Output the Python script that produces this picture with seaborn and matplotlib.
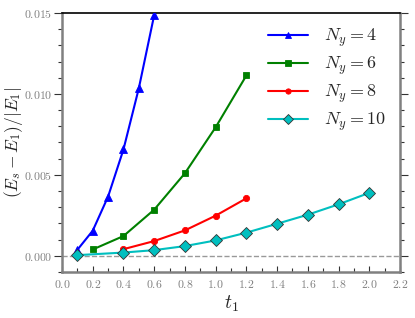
import matplotlib
matplotlib.use("Agg")
import matplotlib.pyplot as plt
import seaborn as sns
import numpy as np
import pandas as pd
from matplotlib.ticker import MultipleLocator, FuncFormatter

sns.set_style("white")
plt.rcParams['mathtext.fontset'] = 'cm'
plt.rcParams['font.family'] = ['DejaVu Serif']

t_ny4 = [0.1, 0.2, 0.3, 0.4, 0.5, 0.6]
e_ny4 = [0.00037, 0.00155, 0.00366, 0.00657, 0.01035, 0.01487]
t_ny6 = [0.2, 0.4, 0.6, 0.8, 1.0, 1.2]
e_ny6 = [0.00039, 0.00122, 0.00285, 0.0051, 0.00794, 0.01114]
t_ny8 = [0.4, 0.6, 0.8, 1.0, 1.2]
e_ny8 = [0.00041, 0.00091, 0.00157, 0.00248, 0.00355]
t_ny10 = [0.1, 0.4, 0.6, 0.8, 1.0, 1.2, 1.4, 1.6, 1.8, 2.0]
e_ny10 = [0.00004, 0.0002, 0.00035, 0.0006, 0.00095, 0.00143, 0.00198, 0.00254, 0.00318, 0.00389]
labels = [r'$N_y = 4$', r'$N_y = 6$', r'$N_y = 8$', r'$N_y = 10$']

series = [(t_ny4, e_ny4, '#0000ff', '^', 5.5),
          (t_ny6, e_ny6, '#008000', 's', 5),
          (t_ny8, e_ny8, '#ff0000', 'o', 4.5),
          (t_ny10, e_ny10, '#00bfbf', 'D', 6)]

fig = plt.figure(figsize=(4.15, 3.18), dpi=100)
ax = fig.add_axes([0.1494, 0.1447, 0.8145, 0.8144])

ax.axhline(0, color='#999999', lw=1, ls='--', zorder=1)
for (t, e, c, m, ms), lab in zip(series, labels):
    df = pd.DataFrame({'t': t, 'e': e})
    sns.lineplot(data=df, x='t', y='e', ax=ax, color=c, marker=m, markersize=ms,
                 markeredgecolor='#333333' if m == 'D' else c, markeredgewidth=0.6,
                 lw=1.5, label=lab, zorder=3)

ax.set_xlim(0, 2.2)
ax.set_ylim(-0.001, 0.015)
ax.xaxis.set_major_locator(MultipleLocator(0.2))
ax.xaxis.set_minor_locator(MultipleLocator(0.1))
ax.yaxis.set_major_locator(MultipleLocator(0.005))
ax.yaxis.set_minor_locator(MultipleLocator(0.001))
ax.xaxis.set_major_formatter(FuncFormatter(lambda v, p: r'$%.1f$' % v))
ax.yaxis.set_major_formatter(FuncFormatter(lambda v, p: r'$%.3f$' % v))

grey = '#808080'
for s in ['left', 'bottom', 'right']:
    ax.spines[s].set_color(grey)
    ax.spines[s].set_linewidth(1.8)
ax.spines['top'].set_color('black')
ax.spines['top'].set_linewidth(1.2)

ax.tick_params(axis='x', which='both', direction='in', bottom=True, top=False,
               colors='#333333', labelcolor=grey, labelsize=8.5, pad=4)
ax.tick_params(axis='x', which='major', length=4, width=0.8)
ax.tick_params(axis='x', which='minor', length=3, width=0.8)
ax.tick_params(axis='y', which='both', direction='out', left=True, right=True,
               colors='#333333', labelcolor=grey, labelsize=8.5)
ax.tick_params(axis='y', which='major', length=6, width=0.8, pad=1)
ax.tick_params(axis='y', which='minor', length=3, width=0.8)

ax.set_xlabel(r'$t_1$', fontsize=14, labelpad=2)
ax.set_ylabel(r'$(E_s - E_1)/|E_1|$', fontsize=12.5)
ax.yaxis.set_label_coords(-0.108, 0.5)

leg = ax.legend(loc='upper right', frameon=False, fontsize=13, handlelength=2.2,
                labelspacing=0.32, borderaxespad=0.3, handletextpad=0.9,
                markerscale=0.85, bbox_to_anchor=(0.995, 0.995))

fig.savefig('out.png', dpi=100)
